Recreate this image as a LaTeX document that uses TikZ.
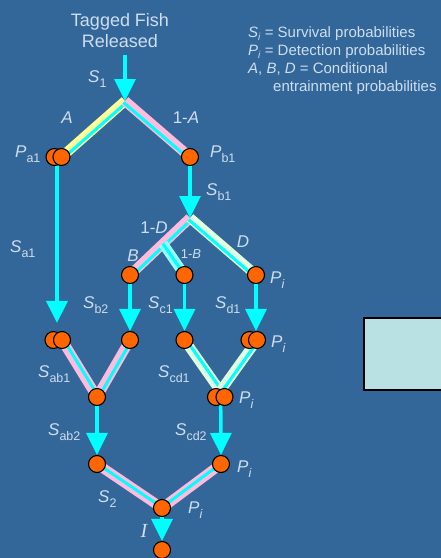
\documentclass[tikz,border=0pt]{standalone}
\usepackage{fontspec}
\setmainfont{Liberation Sans}
\newfontfamily\serifI{Liberation Serif}
\usetikzlibrary{arrows.meta,calc}
\definecolor{bgblue}{RGB}{51,102,153}
\definecolor{txt}{RGB}{205,222,240}
\definecolor{aqua}{RGB}{0,255,255}
\definecolor{bandY}{RGB}{255,255,153}
\definecolor{bandP}{RGB}{255,187,221}
\definecolor{bandG}{RGB}{224,255,224}
\definecolor{bandC}{RGB}{150,255,255}
\definecolor{fishorange}{RGB}{255,102,0}
\definecolor{boxfill}{RGB}{185,224,227}
\pgfdeclarelayer{backdrop}
\pgfdeclarelayer{lines}
\pgfsetlayers{backdrop,lines,main}
\newcommand\sub[2]{\textit{#1}\raisebox{-5pt}{\fontsize{12.5}{13}\selectfont #2}}
\newcommand\lsub[2]{\textit{#1}\raisebox{-3pt}{\fontsize{10}{11}\selectfont #2}}
\newcommand\bandcon[4]{%
  \draw[line width=10pt,#1] (#2) -- (#3);
  \draw[line width=3pt,aqua] ($(#2)!#4!90:(#3)$) -- ($(#3)!#4!-90:(#2)$);
}
\begin{document}
\begin{tikzpicture}[x=1pt,y=-1pt,
  station/.style={circle, draw=black, line width=1.1pt, fill=fishorange, minimum size=17pt, inner sep=0pt},
  flow/.style={draw=aqua, line width=3.5pt, -{Triangle[width=21pt,length=22pt]}},
  lbl/.style={text=txt, inner sep=0pt, font=\fontsize{17}{20}\selectfont},
  legend/.style={text=txt, inner sep=0pt, font=\fontsize{15}{18}\selectfont, anchor=base west},
  title/.style={text=txt, inner sep=0pt, font=\fontsize{18}{21}\selectfont, anchor=base}]
\begin{pgfonlayer}{backdrop}
\fill[bgblue] (0,0) rectangle (441,558);
\end{pgfonlayer}
\useasboundingbox (0,0) rectangle (441,558);

% stations
\node[station] (pa1x) at (54.5,157) {};
\node[station] (pa1) at (61.5,157) {};
\node[station] (pb1) at (190,157) {};
\node[station] (b1) at (130,275) {};
\node[station] (c1) at (184.5,275) {};
\node[station] (d1) at (256,275) {};
\node[station] (pabx) at (53.5,340) {};
\node[station] (pab) at (62,340) {};
\node[station] (b2) at (130,340) {};
\node[station] (c2) at (184.5,340) {};
\node[station] (d2x) at (249.5,340) {};
\node[station] (d2) at (257,340) {};
\node[station] (nab) at (97,397) {};
\node[station] (ncdx) at (216,397) {};
\node[station] (ncd) at (224.5,397) {};
\node[station] (ab3) at (97,464) {};
\node[station] (cd3) at (221,464) {};
\node[station] (nbot) at (162,508) {};
\node[station] (nend) at (162,550) {};

\coordinate (top) at (125,55);
\coordinate (j1) at (125,101);
\coordinate (j2) at (190,218);
\coordinate (jb) at ($(j2)!0.45!(b1)$);
\coordinate (pa1m) at ($(pa1x)!0.35!(pa1)$);
\coordinate (pabm) at ($(pabx)!0.4!(pab)$);
\coordinate (ncdm) at ($(ncdx)!0.55!(ncd)$);

\begin{pgfonlayer}{lines}
  \bandcon{bandY}{j1}{pa1.center}{2pt}
  \bandcon{bandP}{j1}{pb1.center}{-2pt}
  \bandcon{bandP}{j2}{b1.center}{2pt}
  \bandcon{bandC}{jb}{c1.center}{0pt}
  \bandcon{bandG}{j2}{d1.center}{-2pt}
  \bandcon{bandP}{pab.center}{nab.center}{1.5pt}
  \bandcon{bandP}{b2.center}{nab.center}{1.5pt}
  \bandcon{bandG}{c2.center}{ncd.center}{1.5pt}
  \bandcon{bandG}{d2.center}{ncdx.center}{1.5pt}
  \bandcon{bandP}{ab3.center}{nbot.center}{0.5pt}
  \bandcon{bandP}{cd3.center}{nbot.center}{-0.5pt}
  \draw[flow] (top) -- (j1);
  \draw[flow] (pb1.center) -- (j2);
  \draw[flow, shorten >=8pt] (pa1m) -- (pa1m |- pab.north);
  \draw[flow] (b1.center) -- (b2.north);
  \draw[flow] (c1.center) -- (c2.north);
  \draw[flow] (d1.center) -- (d1 |- d2.north);
  \draw[flow] (nab.center) -- (ab3.north);
  \draw[flow] (ncdm) -- (cd3.north);
  \draw[flow] (nbot.center) -- (nend.north);
\end{pgfonlayer}

% titles and legend
\node[title] (t1) at (120,26) {Tagged Fish};
\node[title] (t2) at (120,47) {Released};
\node[legend] (lg1) at (248,37) {\lsub{S}{\textit{i}} = Survival probabilities};
\node[legend] (lg2) at (248,55) {\lsub{P}{\textit{i}} = Detection probabilities};
\node[legend] (lg3) at (248,73) {\textit{A}, \textit{B}, \textit{D} = Conditional};
\node[legend] (lg4) at (273,91) {entrainment probabilities};

% labels
\node[lbl, anchor=base west] (ls1) at (88,82) {\sub{S}{1}};
\node[lbl, anchor=base] (la) at (67,123) {\textit{A}};
\node[lbl, anchor=base] (l1a) at (186,123) {1-\textit{A}};
\node[lbl, anchor=base west] (lpa1) at (15,157) {\sub{P}{a1}};
\node[lbl, anchor=base west] (lpb1) at (210,157) {\sub{P}{b1}};
\node[lbl, anchor=base west] (lsb1) at (206,195) {\sub{S}{b1}};
\node[lbl, anchor=base west] (lsa1) at (10,252) {\sub{S}{a1}};
\node[lbl, anchor=base] (l1d) at (154,233) {1-\textit{D}};
\node[lbl, anchor=base] (lb) at (133,261) {\textit{B}};
\node[lbl, anchor=base, font=\fontsize{13}{15}\selectfont] (l1b) at (191,258) {1-\textit{B}};
\node[lbl, anchor=base] (ld) at (243,247) {\textit{D}};
\node[lbl, anchor=base west] (lpd1) at (270,283) {\sub{P}{\textit{i}}};
\node[lbl, anchor=base west] (lsb2) at (83,308) {\sub{S}{b2}};
\node[lbl, anchor=base west] (lsc1) at (148,308) {\sub{S}{c1}};
\node[lbl, anchor=base west] (lsd1) at (215,308) {\sub{S}{d1}};
\node[lbl, anchor=base west] (lpd2) at (271,347) {\sub{P}{\textit{i}}};
\node[lbl, anchor=base west] (lsab1) at (38,377) {\sub{S}{ab1}};
\node[lbl, anchor=base west] (lscd1) at (158,377) {\sub{S}{cd1}};
\node[lbl, anchor=base west] (lpcd) at (239,403) {\sub{P}{\textit{i}}};
\node[lbl, anchor=base west] (lsab2) at (48,435) {\sub{S}{ab2}};
\node[lbl, anchor=base west] (lscd2) at (175,435) {\sub{S}{cd2}};
\node[lbl, anchor=base west] (lpcd3) at (237,472) {\sub{P}{\textit{i}}};
\node[lbl, anchor=base west] (ls2) at (98,502) {\sub{S}{2}};
\node[lbl, anchor=base west] (lpbot) at (188,513) {\sub{P}{\textit{i}}};
\node[lbl, anchor=base, font=\serifI\itshape\fontsize{20}{22}\selectfont] (li) at (144,537) {I};

% box at right
\node[draw=black, line width=1.5pt, fill=boxfill, minimum width=90pt, minimum height=72pt, anchor=north west, inner sep=0pt] (box) at (363,317) {};
\end{tikzpicture}
\end{document}
